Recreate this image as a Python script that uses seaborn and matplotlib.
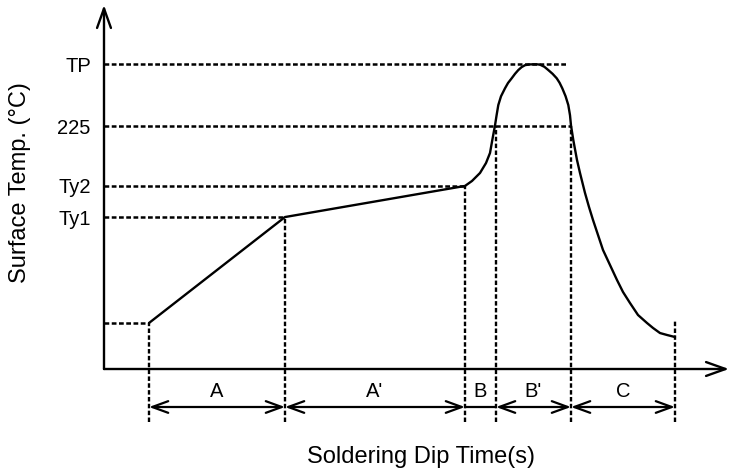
import matplotlib
matplotlib.use("Agg")
import matplotlib.pyplot as plt
import seaborn as sns
import pandas as pd

# ---- data (time in arbitrary seconds, temperature in arbitrary deg C) ----
profile_time = [22.5, 90.5, 180.5, 184, 188, 191, 193, 194.15, 195.5, 196.3, 197.15,
                198.5, 200.5, 202, 203.85, 205.5, 207.15, 208.8, 210.5, 212.5, 214.5,
                216.5, 218, 220.2, 222.15, 224.3, 226.35, 227.8, 229.15, 230.8, 232.15,
                233, 233.5, 234.65, 236.5, 238, 240.5, 242.5, 244.5, 247, 249.5, 253,
                256.5, 259.5, 263, 267, 271.5, 274.5, 278, 281.5, 285.5]
profile_temp = [42.6, 140.7, 169.5, 174.1, 181.5, 190.7, 200.0, 212.0, 225.5, 235.0,
                244.4, 252.5, 259.9, 264.8, 269.2, 273.3, 276.8, 279.5, 281.3, 282.0,
                282.1, 282.1, 281.8, 279.8, 276.8, 273.3, 269.2, 265.0, 259.9, 252.5,
                244.4, 235.0, 225.5, 212.0, 193.5, 181.5, 163.0, 150.0, 138.0, 124.1,
                110.2, 96.3, 82.4, 71.3, 61.1, 50.0, 42.6, 38.0, 33.3, 31.5, 29.6]

level_labels = ["Ty1", "Ty2", "225", "TP"]
level_values = [140.7, 169.5, 225.0, 282.0]
level_ends = [90.5, 180.5, 233.5, 232.0]   # time where each dashed level line stops
start_temp = 42.6
start_time = 22.5

phase_labels = ["A", "A'", "B", "B'", "C"]
phase_arrows = ["<->", "<->", "-", "<->", "<->"]
phase_bounds = [22.5, 90.5, 180.5, 196.0, 233.5, 285.5]
bound_tops = [42.6, 140.7, 169.5, 225.0, 225.0, 45.4]

x_label = "Soldering Dip Time(s)"
y_label = "Surface Temp. (\u00b0C)"

# ---- figure ----
sns.set_style("white")
plt.rcParams['font.family'] = ['Liberation Sans', 'DejaVu Sans']
plt.rcParams['text.color'] = 'black'
plt.rcParams['ytick.color'] = 'black'
plt.rcParams['ytick.labelcolor'] = 'black'
plt.rcParams['axes.labelcolor'] = 'black'

W, H = 732, 473
fig = plt.figure(figsize=(W / 100, H / 100), dpi=100)
ax_left = 104
ax = fig.add_axes([ax_left / W, 0, (W - ax_left) / W, 1])
xmax = (W - ax_left) / 2.0
yscale = 225.0 / 243.0
ax.set_xlim(0, xmax)
ax.set_ylim(-(H - 369) * yscale, 369 * yscale)
for s in ax.spines.values():
    s.set_visible(False)

df = pd.DataFrame({"time": profile_time, "temp": profile_temp})
sns.lineplot(data=df, x="time", y="temp", sort=False, estimator=None,
             color="black", lw=1.7, ax=ax)
ax.set_xlabel("")
ax.set_ylabel("")

dash = (0, (1.9, 1.0))
# horizontal dashed levels
for v, e in zip(level_values, level_ends):
    ax.plot([0, e], [v, v], color="black", lw=1.8, linestyle=dash)
ax.plot([0, start_time], [start_temp, start_temp], color="black", lw=1.8, linestyle=dash)

# vertical dashed boundaries
y_bottom = -(422 - 369) * yscale
for b, top in zip(phase_bounds, bound_tops):
    ax.plot([b, b], [y_bottom, top], color="black", lw=1.7, linestyle=(0, (1.9, 1.0)))

# axes arrows
arrow_kw = dict(arrowstyle="->,head_length=1.4,head_width=0.5",
                lw=1.7, color="black", shrinkA=0, shrinkB=0, mutation_scale=10)
ax.annotate("", xy=(0, 364 * yscale), xytext=(0, 0), arrowprops=arrow_kw)
ax.annotate("", xy=((729 - ax_left) / 2.0, 0), xytext=(0, 0), arrowprops=arrow_kw)

# phase dimension arrows and labels
y_arrow = -(407 - 369) * yscale
y_text = -(391 - 369) * yscale
for lab, st, a, b in zip(phase_labels, phase_arrows, phase_bounds[:-1], phase_bounds[1:]):
    style = st if st == "-" else st + ",head_length=1.15,head_width=0.42"
    ax.annotate("", xy=(b, y_arrow), xytext=(a, y_arrow),
                arrowprops=dict(arrowstyle=style, lw=1.6, color="black",
                                shrinkA=0, shrinkB=0, mutation_scale=10))
    ax.text((a + b) / 2, y_text, lab, ha="center", va="center", fontsize=14.5,
            color="black")

# y tick labels
ax.set_xticks([])
ax.set_yticks(level_values)
ax.set_yticklabels(level_labels, fontsize=14.5, color="black")
ax.tick_params(axis="y", length=0, pad=9.5)

# axis labels
ax.text((20 - ax_left) / (W - ax_left), (H - 183) / H, y_label, rotation=90,
        transform=ax.transAxes, ha="center", va="center", fontsize=17, color="black")
ax.text((421 - ax_left) / (W - ax_left), (H - 457) / H, x_label,
        transform=ax.transAxes, ha="center", va="center", fontsize=17, color="black")

fig.savefig("out.png", dpi=100)
